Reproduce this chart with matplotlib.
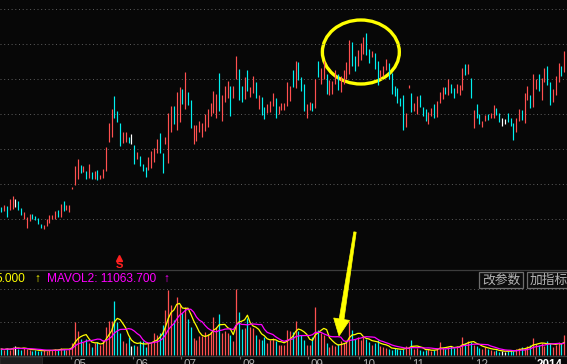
import numpy as np
import pandas as pd
import matplotlib
matplotlib.use("Agg")
import matplotlib.pyplot as plt
from matplotlib.patches import Ellipse, Polygon, Rectangle

plt.rcParams['font.family'] = ['Liberation Sans', 'Noto Sans CJK SC', 'DejaVu Sans']

# ---- data (price in chart points, volume in lots/1000) ----
high = [47, 49, 48, 55, 58, 55, 53, 46, 42, 37,
        40, 40, 38, 36, 30, 29, 35, 39, 39, 43,
        44, 50, 53, 49, 49, 67, 88, 95, 89, 88,
        83, 90, 82, 83, 84, 79, 85, 107, 131, 145,
        158, 143, 131, 122, 122, 117, 120, 109, 102, 98,
        90, 87, 97, 103, 106, 115, 121, 101, 117, 141,
        148, 148, 162, 167, 165, 182, 162, 154, 129, 129,
        133, 131, 140, 145, 151, 163, 160, 181, 159, 168,
        173, 168, 168, 198, 185, 168, 177, 184, 167, 178,
        172, 159, 157, 147, 150, 153, 161, 156, 148, 151,
        151, 172, 168, 184, 193, 192, 177, 170, 150, 152,
        151, 175, 193, 186, 193, 180, 174, 173, 184, 180,
        178, 184, 192, 214, 212, 198, 204, 211, 217, 221,
        205, 203, 201, 193, 184, 188, 195, 191, 181, 168,
        166, 156, 159, 141, 169, 161, 151, 158, 159, 147,
        145, 142, 146, 150, 153, 162, 167, 167, 175, 170,
        166, 170, 169, 186, 190, 190, 176, 144, 150, 140,
        133, 139, 140, 141, 149, 146, 141, 136, 135, 141,
        136, 131, 136, 145, 144, 161, 168, 159, 180, 175,
        180, 176, 186, 188, 172, 165, 178, 191, 188, 203]
low = [42, 43, 37, 44, 45, 47, 44, 39, 35, 26,
       33, 35, 34, 30, 26, 25, 28, 31, 35, 35,
       37, 37, 43, 44, 42, 65, 69, 75, 81, 82,
       75, 76, 75, 75, 74, 75, 76, 83, 112, 117,
       136, 132, 108, 111, 112, 111, 110, 90, 95, 88,
       83, 77, 84, 86, 92, 101, 101, 81, 110, 91,
       122, 130, 124, 132, 150, 145, 149, 126, 110, 113,
       122, 117, 123, 127, 138, 141, 136, 143, 133, 152,
       156, 138, 156, 175, 154, 152, 155, 163, 157, 161,
       156, 145, 139, 135, 141, 142, 148, 136, 140, 144,
       144, 148, 153, 167, 166, 174, 163, 143, 136, 144,
       143, 146, 177, 170, 175, 160, 159, 160, 170, 164,
       162, 170, 175, 180, 188, 183, 188, 194, 200, 199,
       191, 197, 185, 169, 176, 178, 184, 175, 160, 158,
       151, 148, 124, 127, 166, 142, 143, 140, 147, 138,
       133, 130, 138, 136, 137, 151, 155, 160, 159, 161,
       156, 161, 159, 164, 179, 180, 156, 126, 136, 130,
       127, 133, 134, 136, 136, 139, 132, 128, 130, 132,
       128, 114, 122, 133, 134, 131, 154, 146, 147, 165,
       163, 154, 172, 169, 149, 152, 159, 172, 178, 182]
# r = up day, c = down day, w = unchanged
kind = ("crcrrwccrr" "rccccrrrrr" "crcrrrrrcr" "crcrcrrrrr" "cccrrcwcrc"
        "ccrrrrccrr" "rcrrcrccrr" "rrrrrrrcrr" "rcrrccrcrr" "crccrrrcrr"
        "rrrcrcccrr" "crcrrcrrrc" "rrrrccrrrc" "crccrrrccc" "cccrrcrrcc"
        "crrcrrrcrc" "crrrcrcrcc" "rrcrrccwwc" "ccrrcrrcrr" "crrccrrrcr")
vol = [6, 5, 7, 5, 8, 9, 6, 5, 7, 6, 5, 4, 5, 4, 4, 5, 4, 5, 5, 6, 5, 7, 6, 5, 6,
       12, 33, 24, 16, 13, 16, 12, 8, 12, 13, 10, 15, 28, 34, 34, 54, 33, 22, 14,
       12, 18, 9, 10, 9, 14, 14, 8, 12, 12,
       22, 20, 22, 30, 45, 65, 50, 35, 58, 50, 42, 48, 36, 28,
       17, 15, 19, 19, 23, 21, 23, 38, 28, 41, 22, 24, 22, 20, 14, 66, 43, 26, 27,
       37, 28, 27, 20, 16, 15, 18, 12, 15, 17, 14, 10, 10,
       10, 25, 24, 23, 34, 24, 20, 15, 10, 10, 18, 48, 25, 22, 20, 12, 8, 10, 9,
       11, 14, 12, 15, 34, 25, 16, 18, 15, 18, 16,
       13, 10, 12, 15, 9, 8, 7, 6, 5, 7, 6, 5, 6, 9, 8, 15, 6, 7, 5, 4,
       5, 6, 4, 5, 6, 13, 7, 6, 8, 9, 7, 9, 8, 18, 12, 14, 13, 10, 9, 7,
       6, 8, 6, 5, 4, 5, 3, 4, 3, 4, 5, 4, 6, 7, 8, 6, 9, 10, 17, 11,
       10, 12, 9, 14, 12, 8, 10, 13, 12, 20]
price_grid = [35, 70, 105, 140, 175, 210, 245]
vol_grid = [33, 66]
month_pos = [24.5, 46.5, 63.5, 84.5, 108.5, 126.5, 144.5, 166.5, 188.5]
month_lbl = ['05', '06', '07', '08', '09', '10', '11', '12', '2014']
signal_day = 41.5

BG = '#070707'
RED = '#ff5050'
CYAN = '#00f0f0'
GRID = '#5a5a5a'
palette = {'r': RED, 'c': CYAN, 'w': '#ffffff'}

W, H = 567, 364
fig = plt.figure(figsize=(W / 100, H / 100), dpi=100, facecolor=BG)


def fy(py):
    return 1 - py / H


x = np.arange(len(high))
cols = [palette[k] for k in kind]

# ---- price panel ----
ax = fig.add_axes([0, fy(269), 1, fy(0) - fy(269)], facecolor=BG)
ax.set_xlim(-0.46, 199.97)
ax.set_ylim(-15, 254)
for g in price_grid:
    ax.axhline(g, color=GRID, lw=0.72, linestyle=(0, (1, 2.7)))
ax.vlines(x, low, high, colors=cols, lw=0.85)
ax.axis('off')

# highlighted top
ax.add_patch(Ellipse((127.1, 202), 27.2, 64, fill=False, ec='#ffff00', lw=2.4))

# sell signal
ax.plot([signal_day], [-4.0], marker='^', ms=3.8, color='#ff2020', mec='#ff2020')
ax.text(signal_day + 0.2, -10.5, 'S', color='#ff2020', fontsize=8, fontweight='bold',
        ha='center', va='center')

# ---- volume panel ----
axv = fig.add_axes([0, fy(356), 1, fy(270) - fy(356)], facecolor=BG)
axv.set_xlim(-0.46, 199.97)
axv.set_ylim(-1, 85)
for g in vol_grid:
    axv.axhline(g, color=GRID, lw=0.72, linestyle=(0, (1, 2.7)))
axv.vlines(x, 0, vol, colors=cols, lw=0.9)
vs = pd.Series(vol, dtype=float)
axv.plot(x, vs.rolling(5, min_periods=1).mean(), color='#ffff00', lw=0.9)
axv.plot(x, vs.rolling(10, min_periods=1).mean(), color='#ff00ff', lw=0.9)

for s in ['left', 'right']:
    axv.spines[s].set_visible(False)
for s in ['top', 'bottom']:
    axv.spines[s].set_color('#3c3c3c')
    axv.spines[s].set_linewidth(0.9)
axv.set_yticks([])
axv.set_xticks(month_pos)
axv.set_xticklabels([])
axv.tick_params(axis='x', direction='out', length=2.5, color='#6a6a6a', width=0.8)
for p, lb in zip(month_pos, month_lbl):
    axv.text(p + 0.9, -0.03, lb, transform=axv.get_xaxis_transform(),
             ha='left', va='top', fontsize=8.4,
             color='#ffffff' if lb == '2014' else '#a8a8a8',
             fontweight='bold' if lb == '2014' else 'normal')

# header row
hy = fy(279)
fig.text(25.5 / W, hy, '5.000', color='#ffff00', fontsize=8.6, ha='right', va='center')
fig.text(37 / W, hy, '\u2191', color='#ffff00', fontsize=8.6, ha='center', va='center')
fig.text(47 / W, hy, 'MAVOL2: 11063.700', color='#ff00ff', fontsize=8.6, ha='left', va='center')
fig.text(166 / W, hy, '\u2191', color='#ff00ff', fontsize=8.6, ha='center', va='center')

# buttons
for x0, x1, label, cx in [(479, 523, '改参数', 501), (527, 572, '加指标', 549)]:
    fig.add_artist(Rectangle((x0 / W, fy(288)), (x1 - x0) / W, 16 / H,
                             fc='#0d0d0d', ec='#6e6e6e', lw=0.9))
    fig.text(cx / W, fy(280), label, color='#b4b4b4', fontsize=9.2,
             family=['Noto Sans CJK SC', 'DejaVu Sans'], ha='center', va='center')

# date box bottom-left
fig.add_artist(Rectangle((0, 0), 42 / W, 7 / H, fc='#1c1c1c', ec='#2c2c2c', lw=0.6))

# yellow arrow pointing to the volume low
start = np.array([355.0, 232.0])
tip = np.array([339.0, 336.0])
d = tip - start
L = np.hypot(*d)
u = d / L
n = np.array([u[1], -u[0]])
base = start + u * (L - 17)
pts = [start + n * 1.2, base + n * 2.4, base + n * 8.0, tip,
       base - n * 8.0, base - n * 2.4, start - n * 1.2]
pts = [(px / W, fy(py)) for px, py in pts]
fig.add_artist(Polygon(pts, closed=True, fc='#ffff00', ec='#ffff00', lw=0.5))

fig.savefig('out.png', dpi=100, facecolor=BG)
